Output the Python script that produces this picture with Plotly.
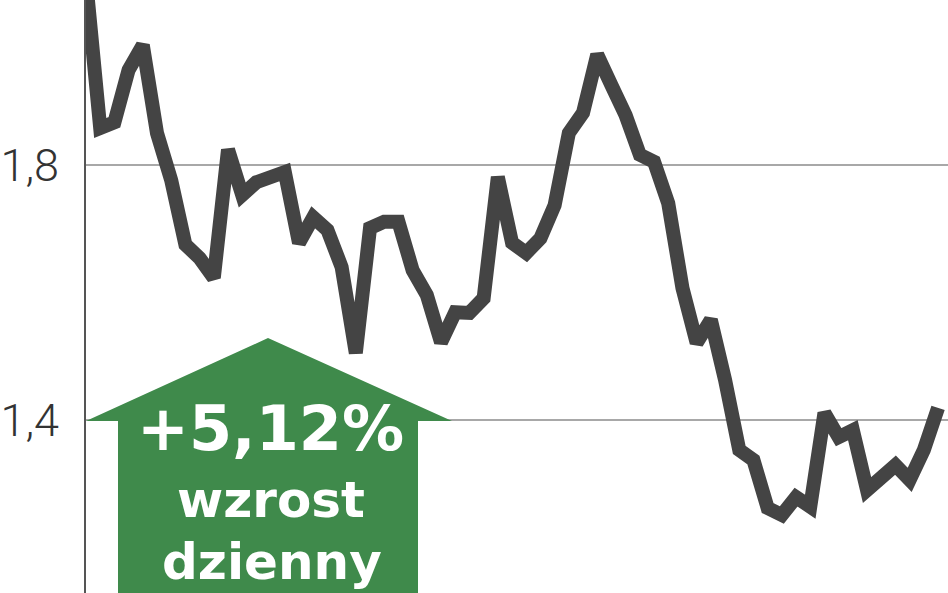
import plotly.graph_objects as go

# Daily price series
day = list(range(61))
price = [2.090, 1.858, 1.867, 1.949, 1.988, 1.850, 1.776, 1.675, 1.654, 1.623,
         1.824, 1.753, 1.773, 1.781, 1.789, 1.678, 1.718, 1.698, 1.640, 1.505,
         1.701, 1.711, 1.711, 1.635, 1.596, 1.522, 1.569, 1.568, 1.591, 1.781,
         1.678, 1.662, 1.685, 1.737, 1.850, 1.882, 1.973, 1.925, 1.878, 1.816,
         1.805, 1.740, 1.607, 1.521, 1.557, 1.463, 1.353, 1.337, 1.262, 1.251,
         1.279, 1.264, 1.411, 1.373, 1.384, 1.290, 1.311, 1.329, 1.306, 1.353,
         1.419]
tick_vals = [1.0, 1.4, 1.8, 2.2]
change_label = "+5,12%"
change_words = ["wzrost", "dzienny"]

W, H = 948, 593
L = 86

def px(x):
    return (x - L) / (W - L)

def py(y):
    return 1 - y / H

fig = go.Figure()
fig.add_trace(go.Scatter(
    x=day, y=price, mode="lines",
    line=dict(color="#444444", width=14),
    hoverinfo="skip", showlegend=False, cliponaxis=True,
))

# green up-arrow (decoration)
pts = [(268, 338), (452, 421), (418, 421), (418, 600), (118, 600), (118, 421), (86, 421)]
path = "M " + " L ".join(f"{px(a):.5f},{py(b):.5f}" for a, b in pts) + " Z"
fig.add_shape(type="path", xref="paper", yref="paper", path=path,
              fillcolor="#3f8a4b", line=dict(width=0), layer="above")

fig.add_annotation(x=px(270), y=py(428), xref="paper", yref="paper",
                   text=f"<b>{change_label}</b>", showarrow=False,
                   font=dict(family="DejaVu Sans", size=62, color="white"),
                   xanchor="center", yanchor="middle")
fig.add_annotation(x=px(271), y=py(500), xref="paper", yref="paper",
                   text=f"<b>{change_words[0]}</b>", showarrow=False,
                   font=dict(family="DejaVu Sans", size=50, color="white"),
                   xanchor="center", yanchor="middle")
fig.add_annotation(x=px(272), y=py(562), xref="paper", yref="paper",
                   text=f"<b>{change_words[1]}</b>", showarrow=False,
                   font=dict(family="DejaVu Sans", size=50, color="white"),
                   xanchor="center", yanchor="middle")

fig.update_layout(
    width=W, height=H,
    margin=dict(l=L, r=0, t=0, b=0),
    paper_bgcolor="white", plot_bgcolor="white",
    separators=", ",
    showlegend=False,
    xaxis=dict(range=[0, 60.7], visible=False, showgrid=False, zeroline=False),
    yaxis=dict(range=[1.1286, 2.0588], tickvals=tick_vals, tickformat=".1f",
               showgrid=True, gridcolor="#a8a8a8", gridwidth=2,
               zeroline=False, showline=True, linecolor="#555555", linewidth=2,
               ticks="", ticklabelstandoff=16,
               tickfont=dict(family="Roboto", size=45, color="#333333", weight=300)),
)

fig.write_html("out.html", config={"displayModeBar": False},
               post_script="document.body.style.margin='0';document.body.style.overflow='hidden';")
